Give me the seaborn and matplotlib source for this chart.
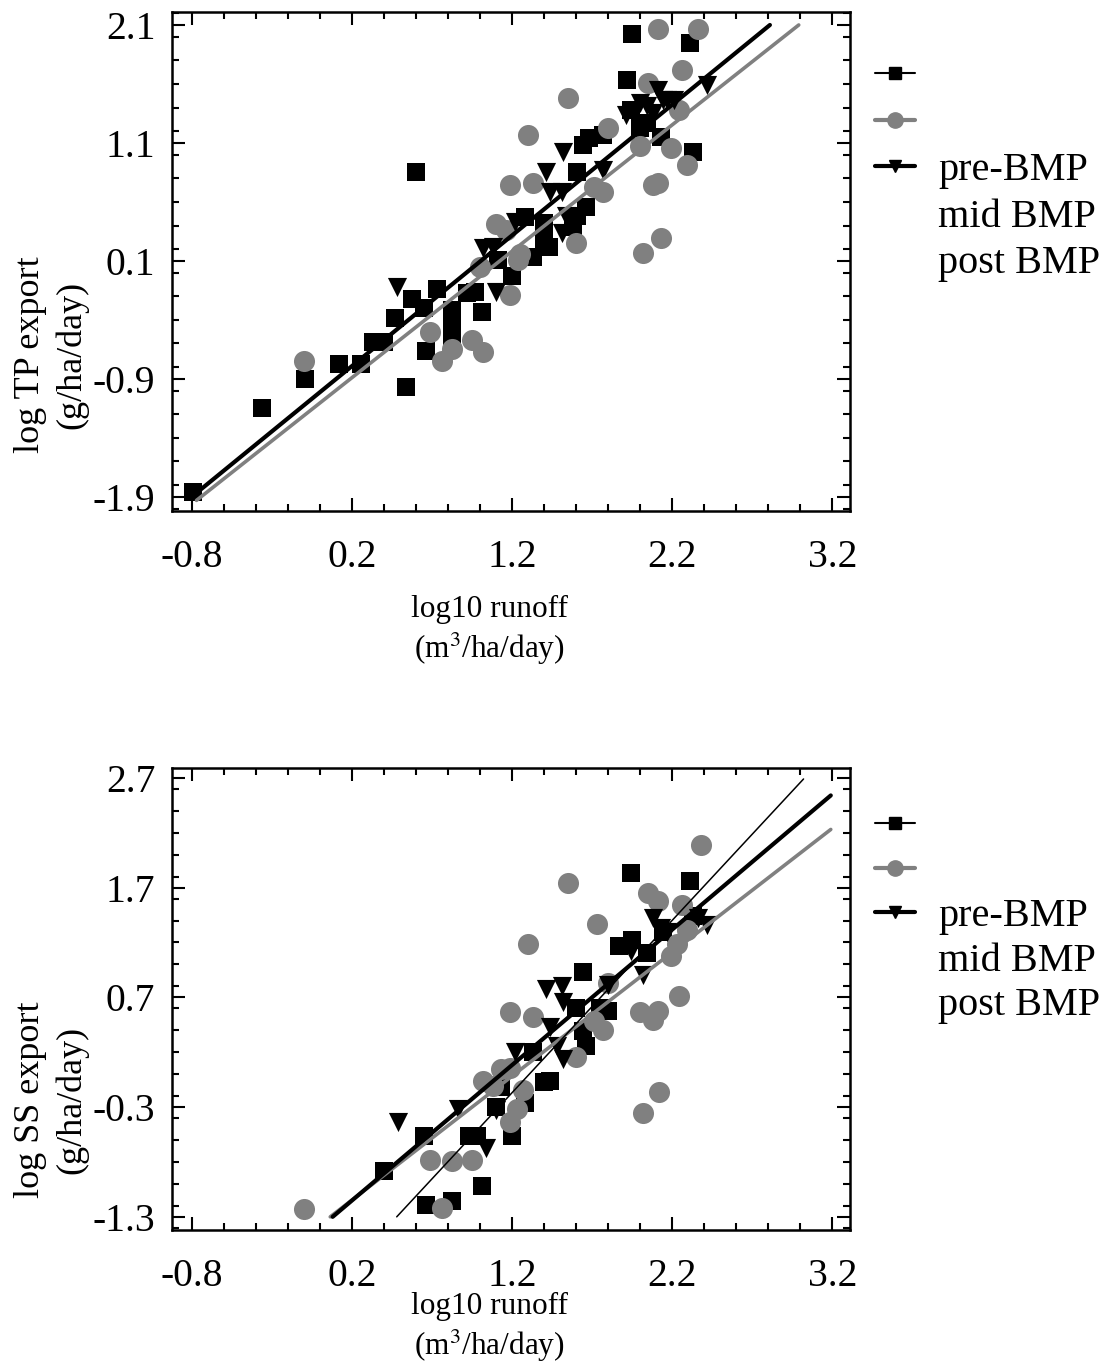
import numpy as np
import pandas as pd
import seaborn as sns
import matplotlib.pyplot as plt
from matplotlib.lines import Line2D
from matplotlib.ticker import MultipleLocator

# ---- data ----
# top panel: log TP export vs log10 runoff
tp_pre_x = [-0.79, -0.36, -0.09, 0.12, 0.26, 0.33, 0.40, 0.54, 0.47, 0.575, 0.65, 0.73, 0.60, 0.66,
            0.825, 0.825, 0.825, 0.92, 0.97, 1.01, 1.11, 1.20, 1.33, 1.28, 1.40, 1.43, 1.40, 1.605,
            1.64, 1.68, 1.77, 1.605, 1.58, 1.66, 1.92, 1.95, 1.94, 2.04, 2.13, 2.31, 2.33, 2.00]
tp_pre_y = [-1.86, -1.15, -0.90, -0.77, -0.77, -0.59, -0.59, -0.97, -0.38, -0.22, -0.30, -0.14, 0.85, -0.66,
            -0.32, -0.47, -0.54, -0.17, -0.16, -0.33, 0.11, -0.03, 0.13, 0.47, 0.28, 0.22, 0.42, 0.85,
            1.08, 1.14, 1.17, 0.48, 0.39, 0.56, 1.63, 2.02, 1.38, 1.27, 1.15, 1.95, 1.02, 1.23]
tp_mid_x = [-0.10, 0.69, 0.825, 0.76, 0.95, 1.02, 1.19, 1.10, 1.16, 1.00, 1.19, 1.30, 1.24, 1.33, 1.25,
            1.55, 1.60, 1.71, 1.77, 1.80, 2.00, 2.05, 2.08, 2.11, 2.13, 2.02, 2.11, 2.36, 2.26, 2.24,
            2.19, 2.29]
tp_mid_y = [-0.75, -0.50, -0.65, -0.75, -0.57, -0.67, 0.74, 0.41, 0.36, 0.05, -0.19, 1.17, 0.11, 0.76, 0.16,
            1.48, 0.25, 0.73, 0.68, 1.23, 1.07, 1.61, 0.74, 0.76, 0.29, 0.17, 2.07, 2.07, 1.72, 1.38,
            1.06, 0.91]
tp_post_x = [0.48, 1.02, 1.08, 1.10, 1.22, 1.41, 1.52, 1.44, 1.51, 1.51, 1.54, 1.77, 1.91, 2.00, 2.04,
             2.08, 2.11, 2.14, 2.17, 2.21, 2.42]
tp_post_y = [-0.12, 0.21, 0.22, -0.16, 0.43, 0.85, 1.02, 0.68, 0.68, 0.34, 0.48, 0.87, 1.34, 1.44, 1.41,
             1.35, 1.55, 1.46, 1.46, 1.46, 1.59]

# bottom panel: log SS export vs log10 runoff
ss_pre_x = [0.40, 0.65, 0.66, 0.825, 1.01, 0.93, 0.98, 1.10, 1.20, 1.13, 1.28, 1.40, 1.44, 1.33, 1.64,
            1.60, 1.66, 1.64, 1.80, 1.75, 1.87, 1.95, 1.94, 2.04, 2.14, 2.31, 2.33]
ss_pre_y = [-0.88, -0.56, -1.19, -1.16, -1.02, -0.56, -0.56, -0.30, -0.56, -0.12, -0.26, -0.07, -0.06, 0.20, 0.93,
            0.60, 0.26, 0.39, 0.58, 0.60, 1.17, 1.22, 1.83, 1.10, 1.30, 1.76, 1.44]
ss_mid_x = [-0.10, 0.69, 0.825, 0.76, 0.95, 1.02, 1.08, 1.19, 1.19, 1.23, 1.19, 1.30, 1.27, 1.33, 1.55,
            1.60, 1.73, 1.71, 1.77, 1.80, 2.00, 2.11, 2.08, 2.05, 2.11, 2.02, 2.12, 2.24, 2.26, 2.38,
            2.19, 2.23, 2.29, 1.13]
ss_mid_y = [-1.23, -0.78, -0.79, -1.22, -0.78, -0.06, -0.11, 0.06, -0.44, -0.32, 0.57, 1.19, -0.14, 0.52, 1.74,
            0.16, 1.37, 0.48, 0.40, 0.83, 0.57, 0.58, 0.49, 1.65, 1.58, -0.35, -0.16, 0.71, 1.54, 2.09,
            1.08, 1.19, 1.31, 0.05]
ss_post_x = [0.49, 0.86, 1.04, 1.10, 1.22, 1.41, 1.51, 1.52, 1.44, 1.48, 1.52, 1.80, 1.94, 2.02, 2.08,
             2.13, 2.17, 2.36, 2.42]
ss_post_y = [-0.44, -0.32, -0.67, -0.33, 0.20, 0.78, 0.80, 0.66, 0.43, 0.26, 0.14, 0.81, 1.12, 0.90, 1.42,
             1.33, 1.30, 1.42, 1.36]

# fitted regression lines (end points)
tp_fit_pre = ([-0.80, 2.81], [-1.90, 2.10])
tp_fit_mid = ([-0.77, 2.99], [-1.93, 2.10])
tp_fit_post = ([-0.80, 2.81], [-1.90, 2.10])
ss_fit_pre = ([0.48, 3.02], [-1.30, 2.69])
ss_fit_mid = ([0.065, 3.19], [-1.30, 2.23])
ss_fit_post = ([0.08, 3.19], [-1.30, 2.54])

labels = ['pre-BMP', 'mid BMP', 'post BMP']
x_ticks = [-0.8, 0.2, 1.2, 2.2, 3.2]
tp_ticks = [-1.9, -0.9, 0.1, 1.1, 2.1]
ss_ticks = [-1.3, -0.3, 0.7, 1.7, 2.7]

GRAY = '#808080'

sns.set_style('ticks')
plt.rcParams['font.family'] = ['Liberation Serif', 'DejaVu Serif']
plt.rcParams['mathtext.fontset'] = 'stix'
for k in ['text.color', 'axes.labelcolor', 'xtick.color', 'ytick.color']:
    plt.rcParams[k] = 'black'

fig = plt.figure(figsize=(11.17, 13.72), dpi=100)
ax1 = fig.add_axes([172 / 1117, 1 - 511 / 1372, 678 / 1117, 499 / 1372])
ax2 = fig.add_axes([172 / 1117, 1 - 1230 / 1372, 678 / 1117, 462 / 1372])


def draw_panel(ax, pre, mid, post, fits, yticks, ylim, ylabel, ylab_y, xlab_y):
    sns.scatterplot(x=pre[0], y=pre[1], ax=ax, marker='s', s=165, color='black', linewidth=0, zorder=2)
    sns.scatterplot(x=mid[0], y=mid[1], ax=ax, marker='o', s=230, color=GRAY, linewidth=0, zorder=2)
    sns.scatterplot(x=post[0], y=post[1], ax=ax, marker='v', s=190, color='black', linewidth=0, zorder=2)
    sns.lineplot(x=fits[0][0], y=fits[0][1], ax=ax, color='black', lw=1.1, zorder=4)
    sns.lineplot(x=fits[1][0], y=fits[1][1], ax=ax, color=GRAY, lw=2.6, zorder=3)
    sns.lineplot(x=fits[2][0], y=fits[2][1], ax=ax, color='black', lw=3.0, zorder=3)

    ax.set_xlim(-0.923, 3.31)
    ax.set_ylim(*ylim)
    ax.set_xticks(x_ticks)
    ax.set_xticklabels([f'{t:.1f}' for t in x_ticks])
    ax.set_yticks(yticks)
    ax.set_yticklabels([f'{t:.1f}' for t in yticks])
    ax.xaxis.set_minor_locator(MultipleLocator(0.2))
    ax.yaxis.set_minor_locator(MultipleLocator(0.2))
    ax.tick_params(which='both', direction='in', top=True, right=True, width=1.5, color='black',
                   labelcolor='black')
    ax.tick_params(which='major', length=9.5, labelsize=28.5)
    ax.tick_params(which='minor', length=5)
    ax.tick_params(axis='x', which='major', pad=20)
    ax.tick_params(axis='y', which='major', pad=12)
    for sp in ax.spines.values():
        sp.set_linewidth(1.8)
        sp.set_color('black')

    ax.set_xlabel('log10 runoff\n(m$^3$/ha/day)', fontsize=22.5, linespacing=1.25)
    ax.xaxis.set_label_coords(0.4676, xlab_y)
    ax.set_ylabel(ylabel, fontsize=26, linespacing=1.3)
    ax.yaxis.set_label_coords(-0.124, ylab_y)

    handles = [
        Line2D([], [], color='black', lw=1.5, marker='s', markersize=8),
        Line2D([], [], color=GRAY, lw=3.0, marker='o', markersize=11),
        Line2D([], [], color='black', lw=3.0, marker='v', markersize=9),
        Line2D([], [], color='none'),
        Line2D([], [], color='none'),
    ]
    return handles


h1 = draw_panel(ax1, (tp_pre_x, tp_pre_y), (tp_mid_x, tp_mid_y), (tp_post_x, tp_post_y),
                (tp_fit_pre, tp_fit_mid, tp_fit_post), tp_ticks, (-2.02, 2.21),
                'log TP export\n(g/ha/day)', 0.3126, -0.168)
h2 = draw_panel(ax2, (ss_pre_x, ss_pre_y), (ss_mid_x, ss_mid_y), (ss_post_x, ss_post_y),
                (ss_fit_pre, ss_fit_mid, ss_fit_post), ss_ticks, (-1.42, 2.79),
                'log SS export\n(g/ha/day)', 0.281, -0.135)

leg_labels = ['', '', labels[0], labels[1], labels[2]]
for ax, h, ytop, sp in [(ax1, h1, 1 - 59 / 1372, 0.23), (ax2, h2, 1 - 809 / 1372, 0.18)]:
    ax.legend(h, leg_labels, loc='upper left', bbox_to_anchor=(875 / 1117, ytop),
              bbox_transform=fig.transFigure, frameon=False, fontsize=29, handlelength=1.0,
              handletextpad=0.57, borderpad=0, borderaxespad=0, labelspacing=sp)

fig.savefig('out.png', dpi=100)
